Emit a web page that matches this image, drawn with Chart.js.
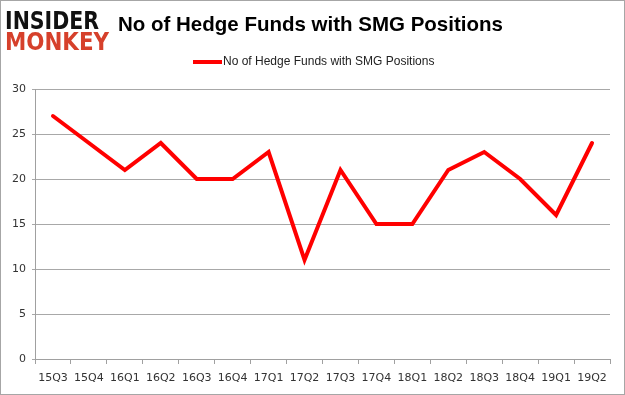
<!DOCTYPE html>
<html>
<head>
<meta charset="utf-8">
<script src="https://cdn.jsdelivr.net/npm/chart.js@4"></script>
<style>
  html, body { margin: 0; padding: 0; background: #fff; }
  #wrap { width: 625px; height: 395px; }
</style>
</head>
<body>
<div id="wrap"><canvas id="chart" width="625" height="395"></canvas></div>
<script>
// データ
const quarters = ["15Q3", "15Q4", "16Q1", "16Q2", "16Q3", "16Q4", "17Q1", "17Q2",
  "17Q3", "17Q4", "18Q1", "18Q2", "18Q3", "18Q4", "19Q1", "19Q2"];
const funds = [27, 24, 21, 24, 20, 20, 23, 11, 21, 15, 15, 21, 23, 20, 16, 24];
const yTicks = [0, 5, 10, 15, 20, 25, 30];
const titleText = "No of Hedge Funds with SMG Positions";
const seriesLabel = "No of Hedge Funds with SMG Positions";

// ロゴ・タイトル・凡例・枠線
const decor = {
  id: "decor",
  afterDraw(chart) {
    const { ctx } = chart;
    ctx.save();

    // 枠線
    ctx.strokeStyle = "#a6a6a6";
    ctx.lineWidth = 1;
    ctx.strokeRect(0.5, 0.5, chart.width - 1, chart.height - 1);

    // ロゴ
    const drawFit = (text, x, y, w, color, size) => {
      ctx.font = `bold ${size}px "DejaVu Sans"`;
      const m = ctx.measureText(text).width;
      ctx.save();
      ctx.translate(x, y);
      ctx.scale(w / m, 1);
      ctx.fillStyle = color;
      ctx.textBaseline = "alphabetic";
      ctx.textAlign = "left";
      ctx.fillText(text, 0, 0);
      ctx.restore();
    };
    drawFit("INSIDER", 5, 29, 94, "#111111", 25);
    drawFit("MONKEY", 5, 50, 104, "#d6402b", 25);

    // タイトル
    ctx.fillStyle = "#000";
    ctx.font = 'bold 20.5px "Liberation Sans"';
    ctx.textAlign = "left";
    ctx.textBaseline = "middle";
    ctx.fillText(titleText, 118, 25);

    // 凡例
    ctx.strokeStyle = "#ff0000";
    ctx.lineWidth = 4;
    ctx.beginPath();
    ctx.moveTo(193, 62);
    ctx.lineTo(222, 62);
    ctx.stroke();
    ctx.fillStyle = "#222";
    ctx.font = '12px "Liberation Sans"';
    ctx.fillText(seriesLabel, 223, 62);

    ctx.restore();
  },
};

new Chart(document.getElementById("chart").getContext("2d"), {
  type: "line",
  data: {
    labels: quarters,
    datasets: [
      {
        label: seriesLabel,
        data: funds,
        borderColor: "#ff0000",
        backgroundColor: "#ff0000",
        borderWidth: 4,
        pointRadius: 0,
        tension: 0,
        borderCapStyle: "round",
      },
    ],
  },
  options: {
    responsive: false,
    animation: false,
    layout: { padding: { top: 89, right: 15, left: 0, bottom: 0 } },
    plugins: {
      legend: { display: false },
      tooltip: { enabled: false },
    },
    scales: {
      x: {
        offset: true,
        grid: {
          offset: true,
          drawOnChartArea: false,
          color: "#a0a0a0",
          tickLength: 5,
        },
        border: { color: "#a0a0a0" },
        ticks: {
          color: "#333",
          font: { family: "DejaVu Sans", size: 11 },
          padding: 8,
          maxRotation: 0,
          autoSkip: false,
        },
        afterFit(scale) {
          scale.height = 36;
        },
      },
      y: {
        min: 0,
        max: 30,
        afterBuildTicks(scale) {
          scale.ticks = yTicks.map((v) => ({ value: v }));
        },
        grid: { color: "#a8a8a8", tickLength: 3 },
        border: { color: "#a0a0a0" },
        ticks: {
          color: "#333",
          font: { family: "DejaVu Sans", size: 11 },
          padding: 6,
        },
        afterFit(scale) {
          scale.width = 35;
        },
      },
    },
  },
  plugins: [decor],
});
</script>
</body>
</html>
